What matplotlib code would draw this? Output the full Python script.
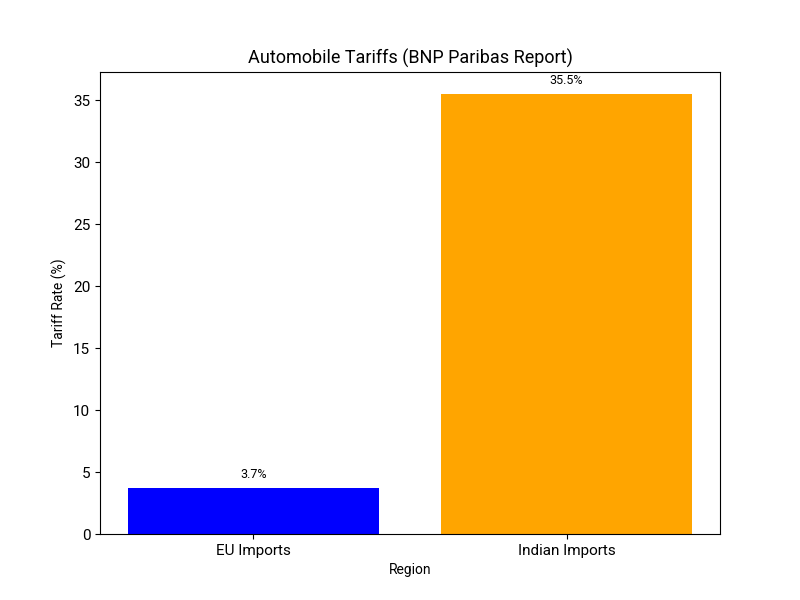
import matplotlib
matplotlib.use("Agg")
import matplotlib.pyplot as plt

plt.rcParams['font.family'] = ['Roboto', 'DejaVu Sans']

regions = ["EU Imports", "Indian Imports"]
rates = [3.7, 35.5]
colors = ["blue", "orange"]

fig, ax = plt.subplots(figsize=(8, 6), dpi=100)
bars = ax.bar(regions, rates, color=colors)
for b, v in zip(bars, rates):
    ax.annotate(f"{v}%", (b.get_x() + b.get_width() / 2, b.get_height()),
                xytext=(0, 5), textcoords="offset points", ha="center", va="bottom", fontsize=9)
ax.set_title("Automobile Tariffs (BNP Paribas Report)", fontsize=13)
ax.set_xlabel("Region", fontsize=10)
ax.set_ylabel("Tariff Rate (%)", fontsize=10)
ax.tick_params(labelsize=11)
fig.savefig("out.png")
